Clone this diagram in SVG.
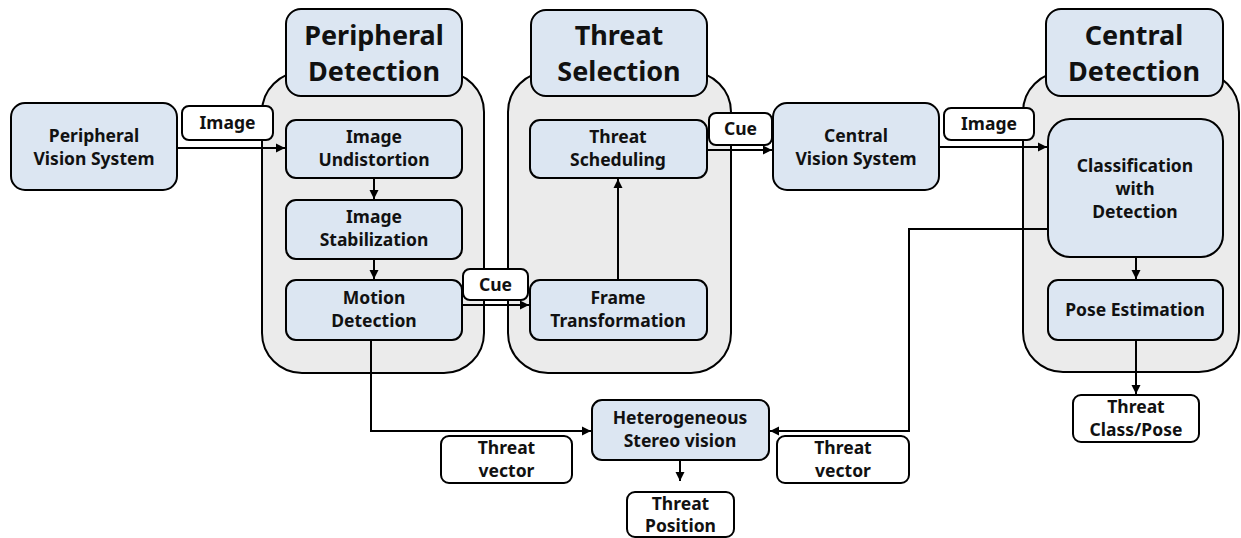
<svg xmlns="http://www.w3.org/2000/svg" width="1241" height="538" viewBox="0 0 1241 538">
<style>
.cont{fill:#ebebeb;stroke:#000;stroke-width:2}
.blue{fill:#dce6f2;stroke:#000;stroke-width:2}
.lab{fill:#fff;stroke:#000;stroke-width:2}
.t{font-family:"Noto Sans","Open Sans","Liberation Sans",sans-serif;font-weight:bold;font-size:17.5px;text-anchor:middle;fill:#111}
.h{font-family:"Noto Sans","Open Sans","Liberation Sans",sans-serif;font-weight:bold;font-size:27px;text-anchor:middle;fill:#111}
.c{fill:none;stroke:#000;stroke-width:2;marker-end:url(#arr)}
</style>
<defs>
<marker id="arr" markerUnits="userSpaceOnUse" markerWidth="10" markerHeight="10" refX="9" refY="5" orient="auto">
<path d="M0,0.5 L9,5 L0,9.5 z" fill="#000"/>
</marker>
</defs>
<rect width="1241" height="538" fill="#fff"/>

<g id="peripheral-detection-container"><rect class="cont" x="262" y="72" width="222" height="301" rx="40"/></g>
<g id="threat-selection-container"><rect class="cont" x="508" y="72" width="223" height="301" rx="40"/></g>
<g id="central-detection-container"><rect class="cont" x="1023" y="72" width="216" height="300" rx="40"/></g>

<g id="connectors">
<path class="c" d="M177,148 H285"/>
<path class="c" d="M374,178 V199"/>
<path class="c" d="M374,259 V279"/>
<path class="c" d="M462,305 H529"/>
<path class="c" d="M618,280 V179"/>
<path class="c" d="M707,150 H772"/>
<path class="c" d="M939,147 H1047"/>
<path class="c" d="M1136,257 V279"/>
<path class="c" d="M1136,340 V394"/>
<path class="c" d="M371,340 V431 H591"/>
<path class="c" d="M1048,229 H909 V431 H770"/>
<path class="c" d="M680,460 V481"/>
</g>

<g id="peripheral-detection-header"><rect class="blue" x="286" y="9" width="176" height="87" rx="15"/>
<text class="h" x="374" y="45">Peripheral</text><text class="h" x="374" y="81">Detection</text></g>
<g id="threat-selection-header"><rect class="blue" x="531" y="10" width="176" height="86" rx="15"/>
<text class="h" x="619" y="45">Threat</text><text class="h" x="619" y="81">Selection</text></g>
<g id="central-detection-header"><rect class="blue" x="1046" y="9" width="177" height="87" rx="15"/>
<text class="h" x="1134" y="45">Central</text><text class="h" x="1134" y="81">Detection</text></g>

<g id="peripheral-vision-system"><rect class="blue" x="11" y="103" width="166" height="87" rx="14"/>
<text class="t" x="94" y="142">Peripheral</text><text class="t" x="94" y="165">Vision System</text></g>
<g id="image-undistortion"><rect class="blue" x="286" y="120" width="176" height="58" rx="10"/>
<text class="t" x="374" y="143">Image</text><text class="t" x="374" y="166">Undistortion</text></g>
<g id="image-stabilization"><rect class="blue" x="286" y="200" width="176" height="59" rx="10"/>
<text class="t" x="374" y="223">Image</text><text class="t" x="374" y="246">Stabilization</text></g>
<g id="motion-detection"><rect class="blue" x="286" y="280" width="176" height="60" rx="10"/>
<text class="t" x="374" y="304">Motion</text><text class="t" x="374" y="327">Detection</text></g>
<g id="threat-scheduling"><rect class="blue" x="530" y="120" width="177" height="58" rx="10"/>
<text class="t" x="618" y="143">Threat</text><text class="t" x="618" y="166">Scheduling</text></g>
<g id="frame-transformation"><rect class="blue" x="530" y="280" width="177" height="60" rx="10"/>
<text class="t" x="618" y="304">Frame</text><text class="t" x="618" y="327">Transformation</text></g>
<g id="central-vision-system"><rect class="blue" x="773" y="103" width="166" height="87" rx="14"/>
<text class="t" x="856" y="142">Central</text><text class="t" x="856" y="165">Vision System</text></g>
<g id="classification-with-detection"><rect class="blue" x="1048" y="119" width="175" height="138" rx="22"/>
<text class="t" x="1135" y="172">Classification</text><text class="t" x="1135" y="195">with</text><text class="t" x="1135" y="218">Detection</text></g>
<g id="pose-estimation"><rect class="blue" x="1048" y="280" width="175" height="60" rx="10"/>
<text class="t" x="1135" y="316">Pose Estimation</text></g>
<g id="heterogeneous-stereo-vision"><rect class="blue" x="592" y="400" width="177" height="60" rx="10"/>
<text class="t" x="680" y="424">Heterogeneous</text><text class="t" x="680" y="447">Stereo vision</text></g>

<g id="label-image-1"><rect class="lab" x="182" y="106" width="91" height="34" rx="7"/><text class="t" x="227.5" y="129">Image</text></g>
<g id="label-cue-1"><rect class="lab" x="709" y="113" width="63" height="32" rx="7"/><text class="t" x="740.5" y="135">Cue</text></g>
<g id="label-image-2"><rect class="lab" x="944" y="108" width="90" height="32" rx="7"/><text class="t" x="989" y="130">Image</text></g>
<g id="label-cue-2"><rect class="lab" x="463" y="269" width="65" height="31" rx="7"/><text class="t" x="495.5" y="291">Cue</text></g>
<g id="threat-vector-left"><rect class="lab" x="441" y="436" width="131" height="47" rx="8"/>
<text class="t" x="506.5" y="454">Threat</text><text class="t" x="506.5" y="477">vector</text></g>
<g id="threat-vector-right"><rect class="lab" x="777" y="436" width="132" height="47" rx="8"/>
<text class="t" x="843" y="454">Threat</text><text class="t" x="843" y="477">vector</text></g>
<g id="threat-position"><rect class="lab" x="627" y="492" width="107" height="45" rx="8"/>
<text class="t" x="680.5" y="510">Threat</text><text class="t" x="680.5" y="532">Position</text></g>
<g id="threat-class-pose"><rect class="lab" x="1073" y="395" width="126" height="47" rx="8"/>
<text class="t" x="1136" y="413">Threat</text><text class="t" x="1136" y="436">Class/Pose</text></g>
</svg>
